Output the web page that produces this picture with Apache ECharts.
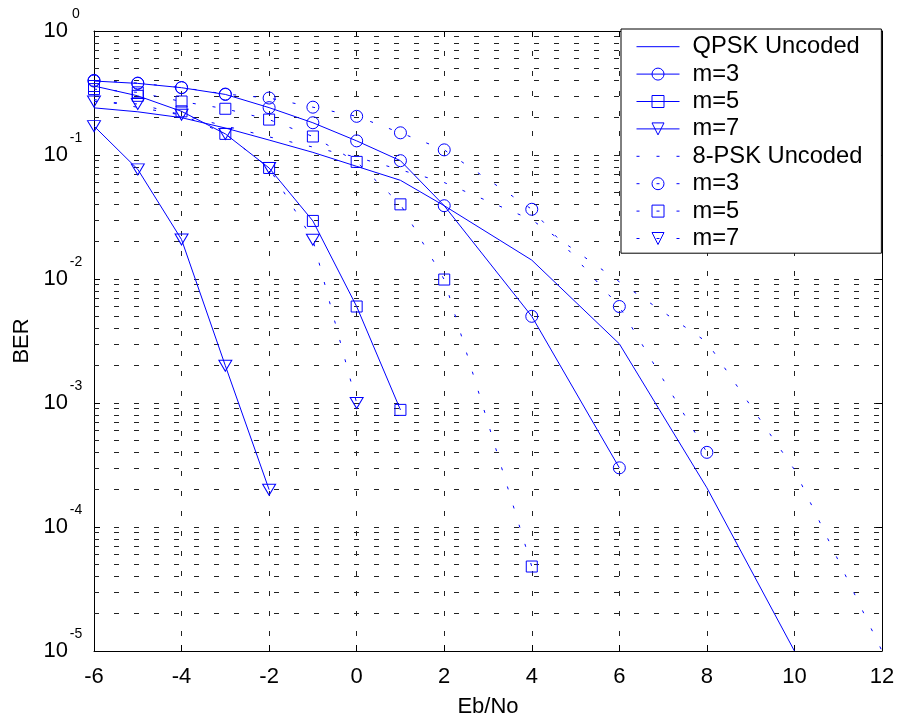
<!DOCTYPE html>
<html>
<head>
<meta charset="utf-8">
<script src="https://cdn.jsdelivr.net/npm/echarts@6/dist/echarts.min.js"></script>
<style>
html,body{margin:0;padding:0;background:#fff;}
#chart{width:898px;height:716px;}
</style>
</head>
<body>
<div id="chart"></div>
<script>
// ---- data ----
const qpskUncX = [-6, -5, -4, -3, -2, -1, 0, 1, 2, 4, 6, 8, 10];
const qpskUncY = [0.24, 0.223, 0.20, 0.165, 0.132, 0.105, 0.081, 0.0625, 0.039, 0.0142, 0.0030, 0.000207, 0.00001];

const qpskM3X = [-6, -5, -4, -3, -2, -1, 0, 1, 2, 4, 6];
const qpskM3Y = [0.395, 0.378, 0.349, 0.308, 0.241, 0.182, 0.130, 0.090, 0.039, 0.0050, 0.0003];

const qpskM5X = [-6, -5, -4, -3, -2, -1, 0, 1];
const qpskM5Y = [0.36, 0.30, 0.225, 0.148, 0.0786, 0.0294, 0.0060, 0.00088];

const qpskM7X = [-6, -5, -4, -3, -2];
const qpskM7Y = [0.171, 0.0766, 0.0208, 0.0020, 0.0002];

const psk8UncX = [-6, -4, -2, 0, 2, 4, 6, 8, 10, 12];
const psk8UncY = [0.28, 0.21, 0.14, 0.096, 0.06, 0.030, 0.0095, 0.0031, 0.00029, 0.00001];

const psk8M3X = [-6, -5, -4, -3, -2, -1, 0, 1, 2, 4, 6, 8];
const psk8M3Y = [0.40, 0.38, 0.35, 0.31, 0.288, 0.243, 0.205, 0.151, 0.110, 0.0365, 0.0060, 0.0004];

const psk8M5X = [-6, -5, -4, -3, -2, -1, 0, 1, 2, 4];
const psk8M5Y = [0.34, 0.32, 0.27, 0.236, 0.193, 0.141, 0.088, 0.040, 0.0099, 0.000048];

const psk8M7X = [-6, -5, -4, -3, -2, -1, 0];
const psk8M7Y = [0.27, 0.258, 0.211, 0.148, 0.0786, 0.0207, 0.001];

const legendNames = ['QPSK Uncoded', 'm=3', 'm=5', 'm=7', '8-PSK Uncoded', 'm=3 ', 'm=5 ', 'm=7 '];
const xTicks = [-6, -4, -2, 0, 2, 4, 6, 8, 10, 12];
const yTickExponents = ['0', '-1', '-2', '-3', '-4', '-5'];

// ---- chart ----
const FONT = '"Liberation Sans", Arial, Helvetica, sans-serif';
const BLUE = '#0000ff';
const GRIDC = '#222';
const pts = (xs, ys) => xs.map((x, i) => [x, ys[i]]);

const minorVals = [];
for (let k = -5; k <= -1; k++) {
  for (let m = 2; m <= 9; m++) minorVals.push(m * Math.pow(10, k));
}

function mkSeries(name, xs, ys, symbol, dotted) {
  const hasSym = symbol !== null;
  return {
    name: name,
    type: 'line',
    data: pts(xs, ys),
    symbol: hasSym ? symbol : 'circle',
    showSymbol: hasSym,
    symbolSize: symbol === 'triangle' ? [13, 11] : (symbol === 'rect' ? 11 : 12),
    symbolRotate: symbol === 'triangle' ? 180 : 0,
    lineStyle: { color: BLUE, width: 1, type: dotted ? [3, 17] : 'solid' },
    itemStyle: hasSym ? { color: 'rgba(0,0,0,0)', borderColor: BLUE, borderWidth: 1, borderType: 'solid' }
                      : { color: 'rgba(0,0,0,0)', borderColor: 'rgba(0,0,0,0)', borderWidth: 0 },
    emphasis: { disabled: true },
    z: 3,
    animation: false
  };
}

const chart = echarts.init(document.getElementById('chart'), null, { renderer: 'canvas' });

const option = {
  animation: false,
  backgroundColor: '#fff',
  textStyle: { fontFamily: FONT },
  grid: { left: 94, right: 16, top: 31, bottom: 65, containLabel: false, outerBoundsMode: 'none' },
  legend: {
    data: legendNames,
    orient: 'vertical',
    left: 621,
    top: 29,
    z: 20,
    padding: [4, 19, 1, 15],
    itemWidth: 43,
    itemHeight: 15,
    itemGap: 0,
    backgroundColor: '#fff',
    borderColor: '#000',
    borderWidth: 1,
    borderRadius: 0,
    selectedMode: false,
    itemStyle: { borderWidth: 1 },
    lineStyle: { width: 1 },
    textStyle: { fontFamily: FONT, fontSize: 23.7, color: '#000', lineHeight: 27.4, padding: [0, 0, 0, 8] }
  },
  xAxis: [
    {
      type: 'value', min: -6, max: 12, interval: 2, position: 'bottom',
      axisLine: { show: true, onZero: false, lineStyle: { color: '#000', width: 1 } },
      axisTick: { show: true, inside: true, length: 6, lineStyle: { color: '#000' } },
      axisLabel: { fontFamily: FONT, fontSize: 22, color: '#000', margin: 15,
        formatter: v => String(xTicks.find(t => t === v)) },
      splitLine: { show: true, lineStyle: { color: GRIDC, width: 1, type: [5, 15] } },
      name: 'Eb/No', nameLocation: 'middle', nameGap: 45,
      nameTextStyle: { fontFamily: FONT, fontSize: 22, color: '#000' }
    },
    {
      type: 'value', min: -6, max: 12, interval: 2, position: 'top',
      axisLine: { show: true, onZero: false, lineStyle: { color: '#000', width: 1 } },
      axisTick: { show: true, inside: true, length: 6, lineStyle: { color: '#000' } },
      axisLabel: { show: false },
      splitLine: { show: false }
    }
  ],
  yAxis: [
    {
      type: 'log', logBase: 10, min: 1e-5, max: 1, interval: 1, position: 'left',
      axisLine: { show: true, onZero: false, lineStyle: { color: '#000', width: 1 } },
      axisTick: { show: true, inside: true, length: 6, lineStyle: { color: '#000' } },
      axisLabel: {
        margin: 11, color: '#000',
        formatter: v => {
          const e = Math.round(Math.log10(v));
          const lab = yTickExponents.find(s => Number(s) === e);
          return '{b|10}{e|' + lab + '}';
        },
        rich: {
          b: { fontFamily: FONT, fontSize: 22, color: '#000' },
          e: { fontFamily: FONT, fontSize: 14, color: '#000', width: 14, align: 'left', padding: [0, 0, 34, 1] }
        }
      },
      splitLine: { show: true, lineStyle: { color: GRIDC, width: 1, type: [5, 15] } },
      name: 'BER', nameLocation: 'middle', nameGap: 55, nameRotate: 90,
      nameTextStyle: { fontFamily: FONT, fontSize: 22, color: '#000' }
    },
    {
      type: 'log', logBase: 10, min: 1e-5, max: 1, interval: 1, position: 'right',
      axisLine: { show: true, onZero: false, lineStyle: { color: '#000', width: 1 } },
      axisTick: { show: true, inside: true, length: 6, lineStyle: { color: '#000' } },
      axisLabel: { show: false },
      splitLine: { show: false }
    }
  ],
  series: [
    {
      name: '__grid', type: 'line', data: [], z: 1, silent: true, animation: false,
      markLine: {
        silent: true, symbol: ['none', 'none'], label: { show: false }, animation: false, z: 1,
        precision: 12,
        lineStyle: { color: GRIDC, width: 1, type: [5, 15] },
        emphasis: { disabled: true },
        data: minorVals.map(v => ({ yAxis: v }))
      }
    },
    mkSeries(legendNames[0], qpskUncX, qpskUncY, null, false),
    mkSeries(legendNames[1], qpskM3X, qpskM3Y, 'circle', false),
    mkSeries(legendNames[2], qpskM5X, qpskM5Y, 'rect', false),
    mkSeries(legendNames[3], qpskM7X, qpskM7Y, 'triangle', false),
    mkSeries(legendNames[4], psk8UncX, psk8UncY, null, true),
    mkSeries(legendNames[5], psk8M3X, psk8M3Y, 'circle', true),
    mkSeries(legendNames[6], psk8M5X, psk8M5Y, 'rect', true),
    mkSeries(legendNames[7], psk8M7X, psk8M7Y, 'triangle', true)
  ]
};
chart.setOption(option);
</script>
</body>
</html>
